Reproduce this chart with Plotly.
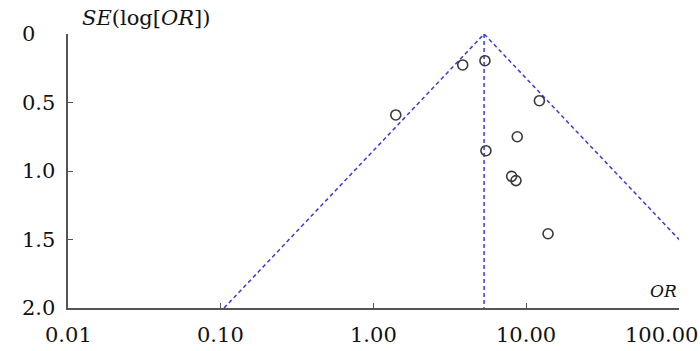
import numpy as np
import plotly.graph_objects as go

# Data
study_or = [3.84, 5.37, 12.2, 1.40, 8.74, 5.45, 8.03, 8.57, 13.9]
study_se = [0.226, 0.195, 0.487, 0.591, 0.75, 0.852, 1.039, 1.07, 1.458]
pooled_or = 5.3
se_max = 2.0
x_tickvals = [0.01, 0.1, 1, 10, 100]
x_ticktext = ["0.01", "0.10", "1.00", "10.00", "100.00"]
y_tickvals = [0, 0.5, 1.0, 1.5, 2.0]
y_ticktext = ["0", "0.5", "1.0", "1.5", "2.0"]

W, H = 700, 351
ml, mr, mt, mb = 68, 21, 34, 43
font_family = "DejaVu Serif"
line_blue = "#3b3bd6"
axis_col = "#555555"
txt_col = "#111111"

fig = go.Figure()

se_line = np.array([0.0, se_max])
lp = np.log(pooled_or)
left = np.exp(lp - 1.96 * se_line)
right = np.exp(lp + 1.96 * se_line)

fig.add_trace(go.Scatter(x=[pooled_or, pooled_or], y=[0, se_max], mode="lines",
                         line=dict(color=line_blue, width=1.5, dash="4px,3px"),
                         hoverinfo="skip", showlegend=False))
fig.add_trace(go.Scatter(x=list(left[::-1]) + list(right[1:]),
                         y=list(se_line[::-1]) + list(se_line[1:]),
                         mode="lines",
                         line=dict(color=line_blue, width=1.5, dash="4px,3px"),
                         hoverinfo="skip", showlegend=False))
fig.add_trace(go.Scatter(x=study_or, y=study_se, mode="markers",
                         marker=dict(symbol="circle-open", size=10, color="#3a3a3a",
                                     line=dict(color="#3a3a3a", width=1.6)),
                         showlegend=False))

fig.update_xaxes(type="log", range=[-2, 2.0005], tickvals=x_tickvals,
                 showticklabels=False, automargin=False,
                 showgrid=False, zeroline=False, showline=True, linecolor=axis_col,
                 linewidth=1.5, ticks="inside", ticklen=5, tickcolor=axis_col)
fig.update_yaxes(range=[se_max, 0], autorange=False, tickvals=y_tickvals,
                 showticklabels=False, automargin=False,
                 showgrid=False, zeroline=False, showline=True, linecolor=axis_col,
                 linewidth=1.5, ticks="inside", ticklen=5, tickcolor=axis_col)

pw = W - ml - mr
# y tick labels (left aligned as in reference)
for v, t in zip(y_tickvals, y_ticktext):
    fig.add_annotation(x=(20 - ml) / pw, xref="paper", y=v, yref="y",
                       text=t, showarrow=False, xanchor="left", yanchor="middle",
                       font=dict(family=font_family, size=21, color=txt_col))
# x tick labels (last one kept inside the page)
for i, (v, t) in enumerate(zip(x_tickvals, x_ticktext)):
    last = i == len(x_tickvals) - 1
    fig.add_annotation(x=np.log10(v), xref="x", y=0, yref="paper", yshift=-27,
                       xshift=21 if last else 0,
                       text=t, showarrow=False,
                       xanchor="right" if last else "center", yanchor="middle",
                       font=dict(family=font_family, size=21, color=txt_col))

fig.add_annotation(x=(80 - ml) / pw, xref="paper", y=1, yref="paper", yshift=2,
                   text="<i>SE</i>(log[<i>OR</i>])", showarrow=False,
                   xanchor="left", yanchor="bottom",
                   font=dict(family=font_family, size=21, color=txt_col))
fig.add_annotation(x=1, xref="paper", y=0, yref="paper", yshift=5,
                   text="<i>OR</i>", showarrow=False, xanchor="right", yanchor="bottom",
                   font=dict(family=font_family, size=17, color=txt_col))

fig.update_layout(width=W, height=H, margin=dict(l=ml, r=mr, t=mt, b=mb),
                  plot_bgcolor="white", paper_bgcolor="white")

fig.write_html("out.html")
